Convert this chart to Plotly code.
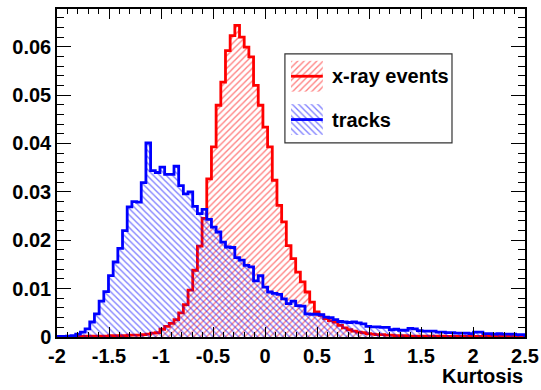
import numpy as np
import plotly.graph_objects as go

# Histogram binning: 100 bins from -2 to 2.5 in kurtosis
x_min, x_max, n_bins = -2.0, 2.5, 100

# Normalised bin contents, x-ray events
xray_counts = [
    0.0000, 0.0000, 0.0001, 0.0001, 0.0001, 0.0001, 0.0002, 0.0002, 0.0002, 0.0002,
    0.0002, 0.0003, 0.0003, 0.0003, 0.0003, 0.0004, 0.0004, 0.0004, 0.0005, 0.0006,
    0.0008, 0.0009, 0.0016, 0.0022, 0.0028, 0.0036, 0.0050, 0.0067, 0.0097, 0.0138,
    0.0188, 0.0245, 0.0327, 0.0393, 0.0479, 0.0527, 0.0592, 0.0623, 0.0644, 0.0620,
    0.0599, 0.0579, 0.0520, 0.0479, 0.0434, 0.0393, 0.0324, 0.0272, 0.0238, 0.0189,
    0.0162, 0.0134, 0.0114, 0.0093, 0.0072, 0.0052, 0.0045, 0.0038, 0.0034, 0.0031,
    0.0024, 0.0019, 0.0015, 0.0012, 0.0010, 0.0009, 0.0007, 0.0006, 0.0005, 0.0005,
    0.0004, 0.0004, 0.0003, 0.0003, 0.0003, 0.0002, 0.0002, 0.0002, 0.0002, 0.0002,
    0.0002, 0.0002, 0.0002, 0.0001, 0.0001, 0.0001, 0.0001, 0.0001, 0.0001, 0.0001,
    0.0001, 0.0001, 0.0001, 0.0001, 0.0001, 0.0001, 0.0001, 0.0001, 0.0001, 0.0001,
]

# Normalised bin contents, tracks
track_counts = [
    0.0001, 0.0001, 0.0002, 0.0003, 0.0006, 0.0010, 0.0017, 0.0031, 0.0048, 0.0074,
    0.0094, 0.0127, 0.0155, 0.0183, 0.0220, 0.0269, 0.0280, 0.0279, 0.0319, 0.0401,
    0.0344, 0.0340, 0.0351, 0.0336, 0.0336, 0.0353, 0.0313, 0.0296, 0.0300, 0.0270,
    0.0255, 0.0264, 0.0243, 0.0227, 0.0217, 0.0196, 0.0186, 0.0185, 0.0164, 0.0159,
    0.0148, 0.0145, 0.0116, 0.0127, 0.0103, 0.0093, 0.0090, 0.0088, 0.0079, 0.0069,
    0.0074, 0.0065, 0.0064, 0.0048, 0.0047, 0.0047, 0.0046, 0.0041, 0.0040, 0.0036,
    0.0032, 0.0031, 0.0030, 0.0031, 0.0029, 0.0027, 0.0022, 0.0021, 0.0021, 0.0020,
    0.0020, 0.0015, 0.0016, 0.0014, 0.0014, 0.0018, 0.0017, 0.0013, 0.0012, 0.0012,
    0.0012, 0.0010, 0.0010, 0.0009, 0.0009, 0.0008, 0.0008, 0.0008, 0.0007, 0.0010,
    0.0010, 0.0007, 0.0007, 0.0006, 0.0007, 0.0006, 0.0006, 0.0006, 0.0005, 0.0005,
]

series_names = ["x-ray events", "tracks"]
series_colors = ["#ff0000", "#0000ff"]
series_hatch = ["/", "\\"]

x_tick_vals = [-2, -1.5, -1, -0.5, 0, 0.5, 1, 1.5, 2, 2.5]
x_tick_text = ["-2", "-1.5", "-1", "-0.5", "0", "0.5", "1", "1.5", "2", "2.5"]
y_tick_vals = [0, 0.01, 0.02, 0.03, 0.04, 0.05, 0.06]
y_tick_text = ["0", "0.01", "0.02", "0.03", "0.04", "0.05", "0.06"]
x_title = "Kurtosis"

FONT = "Liberation Sans, Arial, Helvetica, sans-serif"
FONT_SIZE = 20
LINE_W = 2.8
HATCH = dict(size=4.5, solidity=0.3)
edges = np.linspace(x_min, x_max, n_bins + 1)


def step_outline(values):
    """Closed step contour of a histogram, starting and ending on zero."""
    xs = np.concatenate([[edges[0]], edges, [edges[-1]]])
    ys = np.concatenate([[0.0], values, [values[-1]], [0.0]])
    return xs, ys


fig = go.Figure()

for name, vals, col, hatch in zip(series_names, [xray_counts, track_counts],
                                  series_colors, series_hatch):
    xs, ys = step_outline(np.asarray(vals))
    fig.add_trace(go.Scatter(
        x=xs, y=ys, mode="lines", name=name,
        line=dict(color=col, width=LINE_W, shape="hv"),
        fill="tozeroy", fillcolor="rgba(0,0,0,0)",
        fillpattern=dict(shape=hatch, fgcolor=col, bgcolor="rgba(0,0,0,0)", **HATCH),
        showlegend=False, hoverinfo="skip",
    ))

# Legend swatches drawn on an overlaid unit axis pair
sw_x0, sw_x1 = 0.50, 0.568
rows = [(0.748, 0.842), (0.616, 0.710)]
for (y0, y1), name, col, hatch in zip(rows, series_names, series_colors, series_hatch):
    fig.add_trace(go.Scatter(
        x=[sw_x0, sw_x1, sw_x1, sw_x0, sw_x0], y=[y0, y0, y1, y1, y0],
        mode="none", fill="toself", fillcolor="rgba(0,0,0,0)",
        fillpattern=dict(shape=hatch, fgcolor=col, bgcolor="rgba(0,0,0,0)", **HATCH),
        xaxis="x2", yaxis="y2", showlegend=False, hoverinfo="skip",
    ))
    ym = (y0 + y1) / 2
    fig.add_trace(go.Scatter(
        x=[sw_x0, sw_x1], y=[ym, ym], mode="lines",
        line=dict(color=col, width=LINE_W),
        xaxis="x2", yaxis="y2", showlegend=False, hoverinfo="skip",
    ))
    fig.add_annotation(
        x=0.583, y=ym, xref="paper", yref="paper", text=name,
        showarrow=False, xanchor="left", yanchor="middle",
        font=dict(family=FONT, size=FONT_SIZE, color="black", weight="bold"),
    )

fig.add_shape(type="rect", xref="paper", yref="paper",
              x0=0.487, x1=0.844, y0=0.592, y1=0.863,
              line=dict(color="#333333", width=1.2), fillcolor="rgba(0,0,0,0)",
              layer="above")

fig.add_annotation(
    x=1.0, y=-0.12, xref="paper", yref="paper", text=x_title,
    showarrow=False, xanchor="right", yanchor="middle",
    font=dict(family=FONT, size=FONT_SIZE, color="black", weight="bold"),
)

tick_font = dict(family=FONT, size=FONT_SIZE, color="black", weight="bold")

fig.update_layout(
    width=541, height=390,
    margin=dict(l=57, r=16, t=9, b=53, autoexpand=False),
    paper_bgcolor="white", plot_bgcolor="white",
    showlegend=False,
    xaxis=dict(
        range=[x_min, x_max], tickvals=x_tick_vals, ticktext=x_tick_text,
        ticks="inside", ticklen=10, tickwidth=1, tickcolor="black",
        minor=dict(ticks="inside", ticklen=5, dtick=0.1, tickcolor="black", tickwidth=1),
        showline=True, linecolor="black", linewidth=1.5, mirror="ticks",
        showgrid=False, zeroline=False, tickfont=tick_font, automargin=False,
    ),
    yaxis=dict(
        range=[0, 0.0678], tickvals=y_tick_vals, ticktext=y_tick_text,
        ticks="inside", ticklen=14, tickwidth=1, tickcolor="black",
        minor=dict(ticks="inside", ticklen=7, dtick=0.002, tickcolor="black", tickwidth=1),
        showline=True, linecolor="black", linewidth=1.5, mirror="ticks",
        showgrid=False, zeroline=False, tickfont=tick_font, automargin=False,
    ),
    xaxis2=dict(overlaying="x", anchor="y2", range=[0, 1], visible=False),
    yaxis2=dict(overlaying="y", anchor="x2", range=[0, 1], visible=False),
)

fig.write_html("out.html")
